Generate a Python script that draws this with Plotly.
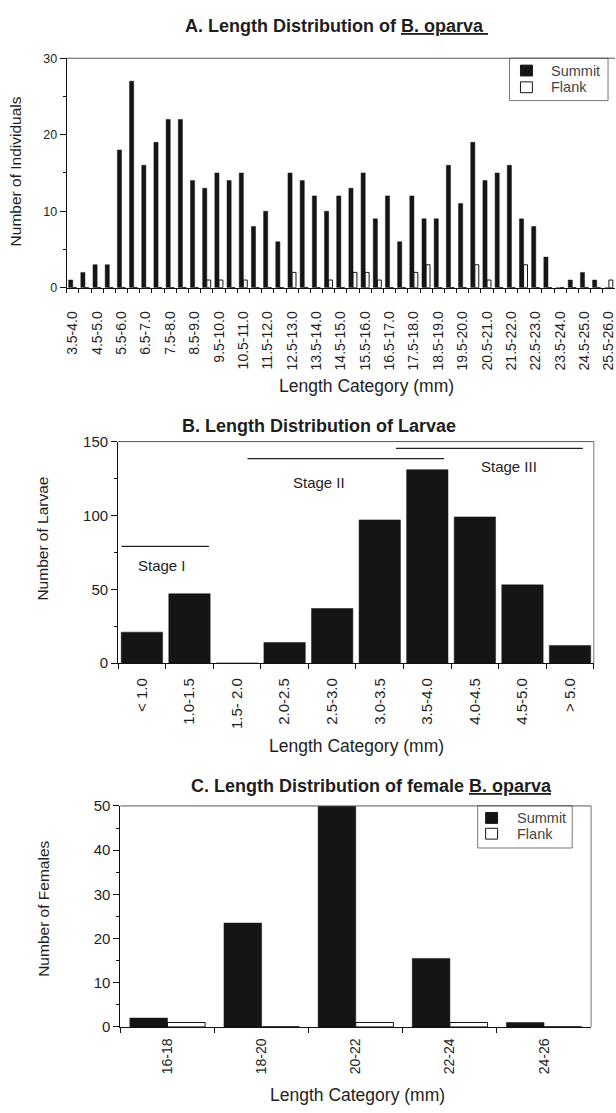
import plotly.graph_objects as go

W, H = 616, 1113
FONT = "Liberation Sans, Arial, Helvetica, sans-serif"

# ---------------- Panel A data ----------------
a_categories = ["3.5-4.0", "4.0-4.5", "4.5-5.0", "5.0-5.5", "5.5-6.0", "6.0-6.5",
                "6.5-7.0", "7.0-7.5", "7.5-8.0", "8.0-8.5", "8.5-9.0", "9.0-9.5",
                "9.5-10.0", "10.0-10.5", "10.5-11.0", "11.0-11.5", "11.5-12.0",
                "12.0-12.5", "12.5-13.0", "13.0-13.5", "13.5-14.0", "14.0-14.5",
                "14.5-15.0", "15.0-15.5", "15.5-16.0", "16.0-16.5", "16.5-17.0",
                "17.0-17.5", "17.5-18.0", "18.0-18.5", "18.5-19.0", "19.0-19.5",
                "19.5-20.0", "20.0-20.5", "20.5-21.0", "21.0-21.5", "21.5-22.0",
                "22.0-22.5", "22.5-23.0", "23.0-23.5", "23.5-24.0", "24.0-24.5",
                "24.5-25.0", "25.0-25.5", "25.5-26.0"]
a_summit = [1, 2, 3, 3, 18, 27, 16, 19, 22, 22, 14, 13, 15, 14, 15, 8, 10, 6, 15, 14,
            12, 10, 12, 13, 15, 9, 12, 6, 12, 9, 9, 16, 11, 19, 14, 15, 16, 9, 8, 4,
            0, 1, 2, 1, 0]
a_flank = [0, 0, 0, 0, 0, 0, 0, 0, 0, 0, 0, 1, 1, 0, 1, 0, 0, 0, 2, 0,
           0, 1, 0, 2, 2, 1, 0, 0, 2, 3, 0, 0, 0, 3, 1, 0, 0, 3, 0, 0,
           0, 0, 0, 0, 1]
a_labeled = ["3.5-4.0", "4.5-5.0", "5.5-6.0", "6.5-7.0", "7.5-8.0", "8.5-9.0",
             "9.5-10.0", "10.5-11.0", "11.5-12.0", "12.5-13.0", "13.5-14.0",
             "14.5-15.0", "15.5-16.0", "16.5-17.0", "17.5-18.0", "18.5-19.0",
             "19.5-20.0", "20.5-21.0", "21.5-22.0", "22.5-23.0", "23.5-24.0",
             "24.5-25.0", "25.5-26.0"]
a_ticktext = [c if c in a_labeled else "" for c in a_categories]

# ---------------- Panel B data ----------------
b_categories = ["< 1.0", "1.0-1.5", "1.5- 2.0", "2.0-2.5", "2.5-3.0", "3.0-3.5",
                "3.5-4.0", "4.0-4.5", "4.5-5.0", "> 5.0"]
b_larvae = [21, 47, 0, 14, 37, 97, 131, 99, 53, 12]

# ---------------- Panel C data ----------------
c_categories = ["16-18", "18-20", "20-22", "22-24", "24-26"]
c_summit = [2, 23.5, 50, 15.5, 1]
c_flank = [1, 0, 1, 1, 0]

BLACK = "#151515"
TXT = "#1e1e1e"


def px(x):
    return x / W


def py(y):
    return 1 - y / H


fig = go.Figure()

# Panel A bars
fig.add_trace(go.Bar(x=a_categories, y=a_summit, name="Summit", xaxis="x", yaxis="y",
                     width=0.34, offset=-0.34, showlegend=False,
                     marker=dict(color=BLACK, line=dict(color=BLACK, width=0.5))))
fig.add_trace(go.Bar(x=a_categories, y=a_flank, name="Flank", xaxis="x", yaxis="y",
                     width=0.32, offset=0.0, showlegend=False,
                     marker=dict(color="white", line=dict(color=BLACK, width=1))))

# Panel B bars
fig.add_trace(go.Bar(x=b_categories, y=b_larvae, name="Larvae", xaxis="x2", yaxis="y2",
                     width=0.87, showlegend=False,
                     marker=dict(color=BLACK, line=dict(color=BLACK, width=0.5))))

# Panel C bars
fig.add_trace(go.Bar(x=c_categories, y=c_summit, name="Summit", xaxis="x3", yaxis="y3",
                     width=0.4, offset=-0.4, showlegend=False,
                     marker=dict(color=BLACK, line=dict(color=BLACK, width=0.5))))
fig.add_trace(go.Bar(x=c_categories, y=c_flank, name="Flank", xaxis="x3", yaxis="y3",
                     width=0.4, offset=0.0, showlegend=False,
                     marker=dict(color="white", line=dict(color=BLACK, width=1))))

axis_common = dict(showline=True, linecolor="#111", linewidth=1, mirror=False,
                   showgrid=False, zeroline=False, ticks="outside", tickcolor="#111")

fig.update_layout(
    xaxis=dict(axis_common, domain=[px(65), px(616)], anchor="y", type="category",
               range=[-0.5, len(a_categories) - 0.5], tickmode="array",
               tickvals=a_categories, ticktext=a_ticktext, tickangle=-90,
               tickson="boundaries", ticklen=4, ticklabelstandoff=17,
               tickfont=dict(family=FONT, size=14, color=TXT)),
    yaxis=dict(axis_common, domain=[py(283), py(50)], anchor="x", range=[0, 30],
               dtick=10, ticklen=6, tickfont=dict(family=FONT, size=12.5, color=TXT),
               minor=dict(dtick=5, ticklen=3, ticks="outside", tickcolor="#111")),
    xaxis2=dict(axis_common, domain=[px(116.7), px(594.7)], anchor="y2", type="category",
                range=[-0.5, len(b_categories) - 0.5], tickangle=-90,
                tickson="boundaries", ticklen=5, ticklabelstandoff=8,
                tickfont=dict(family=FONT, size=15, color=TXT)),
    yaxis2=dict(axis_common, domain=[py(664.3), py(439.3)], anchor="x2", range=[0, 150],
                dtick=50, ticklen=6, tickfont=dict(family=FONT, size=15, color=TXT),
                minor=dict(dtick=25, ticklen=3, ticks="outside", tickcolor="#111")),
    xaxis3=dict(axis_common, domain=[px(119), px(592)], anchor="y3", type="category",
                range=[-0.5, len(c_categories) - 0.5], tickangle=-90,
                tickson="boundaries", ticklen=5, ticklabelstandoff=5,
                tickfont=dict(family=FONT, size=14, color=TXT)),
    yaxis3=dict(axis_common, domain=[py(1033.7), py(809.3)], anchor="x3", range=[0, 50],
                dtick=10, ticklen=6, tickfont=dict(family=FONT, size=15, color=TXT),
                minor=dict(dtick=5, ticklen=3, ticks="outside", tickcolor="#111")),
)

fig.update_layout(
    width=W, height=H, margin=dict(l=0, r=0, t=0, b=0),
    paper_bgcolor="white", plot_bgcolor="white",
    barmode="overlay", showlegend=False,
    font=dict(family=FONT, color=TXT),
)

annotations = [
    # panel titles
    dict(text="<b>A. Length Distribution of <u>B. oparva </u></b>", x=px(336), y=py(17),
         font=dict(size=18)),
    dict(text="<b>B. Length Distribution of Larvae</b>", x=px(319), y=py(423),
         font=dict(size=18)),
    dict(text="<b>C. Length Distribution of female <u>B. oparva</u></b>", x=px(371), y=py(789),
         font=dict(size=18)),
    # x titles
    dict(text="Length Category (mm)", x=px(366), y=py(383), font=dict(size=17.5)),
    dict(text="Length Category (mm)", x=px(356), y=py(748), font=dict(size=17.5)),
    dict(text="Length Category (mm)", x=px(357), y=py(1103), font=dict(size=17.5)),
    # y titles
    dict(text="Number of Individuals", x=px(14), y=py(165), textangle=-90, font=dict(size=15.5)),
    dict(text="Number of Larvae", x=px(41), y=py(538), textangle=-90, font=dict(size=15.5)),
    dict(text="Number of Females", x=px(41), y=py(914), textangle=-90, font=dict(size=15.5)),
]
for a in annotations:
    a.update(xref="paper", yref="paper", showarrow=False, xanchor="center", yanchor="middle")
    a["font"] = dict(family=FONT, color=TXT, **a["font"])

# stage labels in panel B
stage_labels = [("Stage I", 0.43, 66), ("Stage II", 3.73, 122), ("Stage III", 7.72, 133)]
for txt, xx, yy in stage_labels:
    annotations.append(dict(text=txt, x=xx, y=yy, xref="x2", yref="y2", showarrow=False,
                            font=dict(family=FONT, size=15, color=TXT)))

# hand-drawn legends (boxes, swatches, labels) in pixel layout
legend_boxes = [
    dict(box=(510, 50, 609, 93), sw_x=(521, 533), sw1=(57, 68), sw2=(74, 85),
         tx=550, t1=63, t2=79),
    dict(box=(478, 809, 573, 852), sw_x=(486, 498), sw1=(816, 827), sw2=(832, 843),
         tx=516, t1=822, t2=838),
]
shapes = []
for lg in legend_boxes:
    x0, y0, x1, y1 = lg["box"]
    shapes.append(dict(type="rect", xref="paper", yref="paper", x0=px(x0), x1=px(x1),
                       y0=py(y1), y1=py(y0), line=dict(color="#777", width=1),
                       fillcolor="white", layer="above"))
    sx0, sx1 = lg["sw_x"]
    shapes.append(dict(type="rect", xref="paper", yref="paper", x0=px(sx0), x1=px(sx1),
                       y0=py(lg["sw1"][1]), y1=py(lg["sw1"][0]),
                       line=dict(color=BLACK, width=1), fillcolor=BLACK, layer="above"))
    shapes.append(dict(type="rect", xref="paper", yref="paper", x0=px(sx0), x1=px(sx1),
                       y0=py(lg["sw2"][1]), y1=py(lg["sw2"][0]),
                       line=dict(color=BLACK, width=1), fillcolor="white", layer="above"))
    for txt, ty in (("Summit", lg["t1"]), ("Flank", lg["t2"])):
        annotations.append(dict(text=txt, x=px(lg["tx"]), y=py(ty), xref="paper",
                                yref="paper", xanchor="left", yanchor="middle",
                                showarrow=False,
                                font=dict(family=FONT, size=14.5, color="#444")))

# frame lines (top / right) drawn lighter as in the scan
for xa, ya, right in (("x", "y", False), ("x2", "y2", True), ("x3", "y3", True)):
    shapes.append(dict(type="line", xref=f"{xa} domain", yref=f"{ya} domain",
                       x0=0, x1=1, y0=1, y1=1, line=dict(color="#555", width=1)))
    if right:
        shapes.append(dict(type="line", xref=f"{xa} domain", yref=f"{ya} domain",
                           x0=1, x1=1, y0=0, y1=1, line=dict(color="#777", width=1)))

# stage lines in panel B
stage_lines = [(-0.43, 1.41, 79), (2.22, 6.35, 138.4), (5.34, 9.27, 145.4)]
for x0, x1, yy in stage_lines:
    shapes.append(dict(type="line", xref="x2", yref="y2", x0=x0, x1=x1, y0=yy, y1=yy,
                       line=dict(color="#222", width=1.3)))

fig.update_layout(annotations=annotations, shapes=shapes)

fig.write_html("out.html")
